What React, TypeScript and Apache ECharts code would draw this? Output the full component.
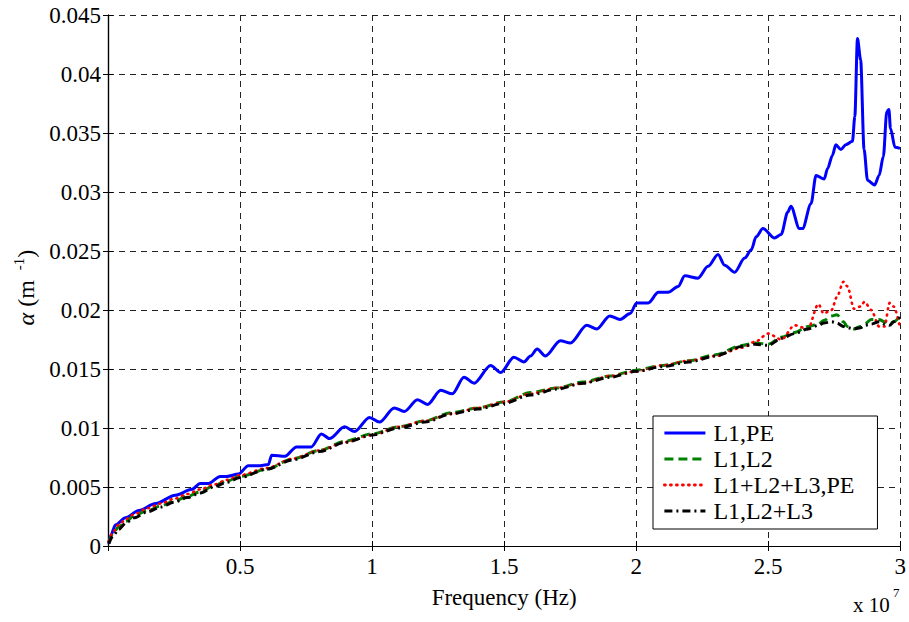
import React, { useEffect, useRef } from 'react';
import * as echarts from 'echarts';

const seriesNames = ['L1,PE', 'L1,L2', 'L1+L2+L3,PE', 'L1,L2+L3'];

const xTickValues = [0.5, 1, 1.5, 2, 2.5, 3];

// Frequency in units of 1e7 Hz
const freqBlue = [
  0.003, 0.01, 0.029, 0.066, 0.117, 0.18, 0.255, 0.318, 0.349, 0.38, 0.425, 0.45, 0.494, 0.531, 0.569,
  0.607, 0.62, 0.67, 0.714, 0.77, 0.808, 0.839, 0.896, 0.934, 0.99, 1.028, 1.084, 1.122, 1.172, 1.21,
  1.26, 1.304, 1.348, 1.386, 1.449, 1.487, 1.537, 1.575, 1.6, 1.625, 1.656, 1.713, 1.751, 1.813, 1.851,
  1.9, 1.939, 1.977, 2.002, 2.046, 2.084, 2.121, 2.159, 2.184, 2.234, 2.272, 2.31, 2.335, 2.373, 2.411,
  2.436, 2.454, 2.48, 2.524, 2.549, 2.574, 2.586, 2.618, 2.63, 2.662, 2.681, 2.712, 2.725, 2.743, 2.756,
  2.775, 2.794, 2.819, 2.828, 2.838, 2.85, 2.863, 2.876, 2.903, 2.92, 2.936, 2.949, 2.957, 2.963, 2.98,
  2.999,
];
const alphaL1PE = [
  0.0002, 0.0009, 0.0018, 0.0024, 0.003, 0.0036, 0.0043, 0.0048, 0.0053, 0.0053, 0.0059, 0.0059, 0.0061, 0.0068, 0.0068,
  0.0069, 0.0077, 0.0076, 0.0084, 0.0084, 0.0095, 0.0091, 0.0101, 0.0097, 0.0109, 0.0105, 0.0117, 0.0114, 0.0124, 0.012,
  0.0132, 0.0129, 0.0143, 0.0138, 0.0153, 0.0147, 0.016, 0.0156, 0.0161, 0.0167, 0.0161, 0.0174, 0.0172, 0.0187, 0.0184,
  0.0195, 0.0192, 0.0197, 0.0206, 0.0206, 0.0215, 0.0215, 0.022, 0.0229, 0.0227, 0.0237, 0.0247, 0.0238, 0.0232, 0.0244,
  0.0251, 0.0262, 0.0269, 0.0261, 0.0264, 0.0283, 0.0288, 0.0269, 0.0269, 0.029, 0.0314, 0.0311, 0.032, 0.0331, 0.034,
  0.0336, 0.034, 0.0343, 0.0364, 0.043, 0.0412, 0.0336, 0.031, 0.0306, 0.0314, 0.033, 0.0368, 0.037, 0.0354, 0.0338,
  0.0337,
];

const freqLow = [
  0.003, 0.02, 0.04, 0.07, 0.1, 0.15, 0.2, 0.25, 0.3, 0.35, 0.4, 0.45, 0.5, 0.6, 0.7, 0.8, 0.9, 1.0,
  1.1, 1.2, 1.3, 1.4, 1.5, 1.6, 1.7, 1.8, 1.9, 2.0, 2.1, 2.2, 2.3, 2.4, 2.45, 2.5, 2.55, 2.6, 2.65,
  2.69, 2.71, 2.74, 2.76, 2.785, 2.8, 2.825, 2.85, 2.865, 2.89, 2.92, 2.94, 2.96, 2.975, 3.0,
];
const alphaL1L2 = [
  0.0003, 0.0011, 0.0016, 0.0021, 0.0026, 0.003, 0.0034, 0.0038, 0.0042, 0.0046, 0.0051, 0.0055, 0.0059, 0.0065, 0.0074, 0.0081, 0.0089, 0.0095,
  0.0101, 0.0106, 0.0113, 0.0117, 0.0122, 0.013, 0.0134, 0.0139, 0.0144, 0.0149, 0.0153, 0.0157, 0.0162, 0.017, 0.0172, 0.0171, 0.0177, 0.0181, 0.0186,
  0.0188, 0.0191, 0.0195, 0.0196, 0.019, 0.0186, 0.0184, 0.0186, 0.0188, 0.0192, 0.0192, 0.019, 0.0188, 0.019, 0.0195,
];
const alphaL1L2L3PE = [
  0.0004, 0.0012, 0.0018, 0.0023, 0.0027, 0.0032, 0.0036, 0.004, 0.0044, 0.0048, 0.0052, 0.0056, 0.006, 0.0066, 0.0074, 0.0081, 0.0088, 0.0094,
  0.0101, 0.0106, 0.0112, 0.0117, 0.0122, 0.0129, 0.0134, 0.0138, 0.0144, 0.0148, 0.0153, 0.0157, 0.0161, 0.0168, 0.0173, 0.018, 0.0175, 0.0187, 0.0184,
  0.0205, 0.0197, 0.02, 0.0211, 0.0224, 0.022, 0.0201, 0.0203, 0.0207, 0.02, 0.0186, 0.0186, 0.0206, 0.0203, 0.0184,
];
const alphaL1L2plusL3 = [
  0.0002, 0.0009, 0.0014, 0.002, 0.0024, 0.0029, 0.0033, 0.0037, 0.0041, 0.0045, 0.005, 0.0054, 0.0058, 0.0065, 0.0073, 0.008, 0.0088, 0.0094,
  0.01, 0.0105, 0.0112, 0.0116, 0.0121, 0.0128, 0.0133, 0.0138, 0.0143, 0.0148, 0.0152, 0.0156, 0.0161, 0.0169, 0.0171, 0.017, 0.0176, 0.018, 0.0184,
  0.0187, 0.0189, 0.019, 0.0189, 0.0186, 0.0185, 0.0184, 0.0185, 0.0187, 0.0188, 0.019, 0.0188, 0.0187, 0.019, 0.0194,
];

const FONT = 'Liberation Serif';

export default function App() {
  const ref = useRef<HTMLDivElement>(null);
  useEffect(() => {
    const chart = echarts.init(ref.current as HTMLDivElement, null, { renderer: 'svg' });
    const zip = (xs: number[], ys: number[]) => xs.map((x, i) => [x, ys[i]]);
    const gridLine = { show: true, lineStyle: { color: '#222', type: [6, 5], width: 1 } };
    const axisLineStyle = { show: true, lineStyle: { color: '#000', width: 1.2 } };
    const tick = { show: true, inside: true, length: 5, lineStyle: { color: '#000' } };
    chart.setOption({
      animation: false,
      backgroundColor: '#fff',
      grid: { left: 108, right: 4, top: 15, bottom: 76 },
      xAxis: [
        {
          type: 'value', min: 0, max: 3, interval: 0.5, position: 'bottom',
          axisLine: axisLineStyle, axisTick: tick, splitLine: gridLine,
          axisLabel: {
            fontFamily: FONT, fontSize: 23, color: '#000', margin: 9,
            formatter: (v: number) => (xTickValues.indexOf(v) >= 0 ? String(v) : ''),
          },
          name: 'Frequency (Hz)', nameLocation: 'middle', nameGap: 40,
          nameTextStyle: { fontFamily: FONT, fontSize: 23, color: '#000' },
        },
        {
          type: 'value', min: 0, max: 3, interval: 0.5, position: 'top',
          axisLine: axisLineStyle, axisTick: tick, splitLine: { show: false }, axisLabel: { show: false },
        },
      ],
      yAxis: [
        {
          type: 'value', min: 0, max: 0.045, interval: 0.005, position: 'left',
          axisLine: axisLineStyle, axisTick: tick, splitLine: gridLine,
          axisLabel: { fontFamily: FONT, fontSize: 23, color: '#000', margin: 7 },
          name: '{i|α} (m{s|-1}{p|)}', nameLocation: 'middle', nameRotate: 90, nameGap: 67,
          nameTextStyle: {
            fontFamily: FONT, fontSize: 24, color: '#000', padding: [0, 14, 0, 0],
            rich: {
              i: { fontFamily: FONT, fontSize: 24, fontStyle: 'italic', color: '#000' },
              s: { fontFamily: FONT, fontSize: 15, color: '#000', verticalAlign: 'bottom', padding: [0, 0, 14, 10] },
              p: { fontFamily: FONT, fontSize: 24, color: '#000' },
            },
          },
        },
        {
          type: 'value', min: 0, max: 0.045, interval: 0.005, position: 'right',
          axisLine: axisLineStyle, axisTick: tick, splitLine: { show: false }, axisLabel: { show: false },
        },
      ],
      legend: {
        orient: 'vertical', left: 653, top: 416,
        backgroundColor: '#fff', borderColor: '#000', borderWidth: 1,
        padding: [5, 23, 6, 10], itemGap: 2, itemWidth: 41, itemHeight: 20,
        itemStyle: { opacity: 0 },
        lineStyle: { width: 2.8 },
        textStyle: { fontFamily: FONT, fontSize: 24, color: '#000', padding: [0, 0, 0, 3] },
        data: seriesNames,
      },
      graphic: [
        {
          type: 'group', left: 853, top: 586,
          children: [
            { type: 'text', x: 0, y: 8, style: { text: 'x 10', fontFamily: FONT, fontSize: 21, fill: '#000' } },
            { type: 'text', x: 40, y: 0, style: { text: '7', fontFamily: FONT, fontSize: 13, fill: '#000' } },
          ],
        },
      ],
      series: [
        {
          name: seriesNames[0], type: 'line', data: zip(freqBlue, alphaL1PE), showSymbol: false, symbol: 'none',
          smooth: 0.3, smoothMonotone: 'x',
          lineStyle: { color: '#0000ff', width: 3 }, itemStyle: { color: '#0000ff' },
        },
        {
          name: seriesNames[1], type: 'line', data: zip(freqLow, alphaL1L2), showSymbol: false, symbol: 'none',
          smooth: 0.3, smoothMonotone: 'x',
          lineStyle: { color: '#008000', width: 3, type: [9, 5] }, itemStyle: { color: '#008000' },
        },
        {
          name: seriesNames[2], type: 'line', data: zip(freqLow, alphaL1L2L3PE), showSymbol: false, symbol: 'none',
          smooth: 0.3, smoothMonotone: 'x',
          lineStyle: { color: '#ff0000', width: 2.6, type: [1, 5], cap: 'round' }, itemStyle: { color: '#ff0000' },
        },
        {
          name: seriesNames[3], type: 'line', data: zip(freqLow, alphaL1L2plusL3), showSymbol: false, symbol: 'none',
          smooth: 0.3, smoothMonotone: 'x',
          lineStyle: { color: '#000000', width: 3, type: [8, 4, 2, 4] }, itemStyle: { color: '#000000' },
        },
      ],
    });
    return () => chart.dispose();
  }, []);
  return (
    <div
      ref={ref}
      style={{ position: 'fixed', left: 0, top: 0, width: 909, height: 622, background: '#fff' }}
    />
  );
}
